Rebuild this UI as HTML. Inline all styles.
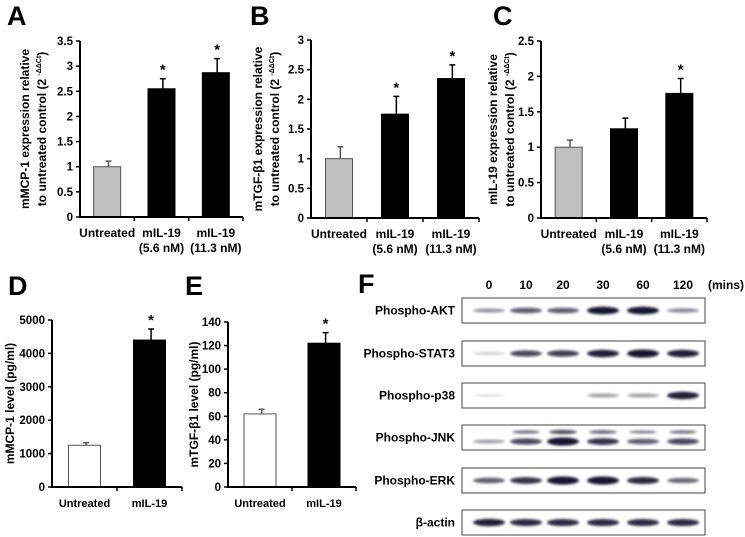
<!DOCTYPE html>
<html><head><meta charset="utf-8"><style>
body{margin:0;background:#fff;}
svg{display:block;font-family:"Liberation Sans",Arial,sans-serif;font-weight:bold;}
</style></head><body>
<svg id="fig" width="745" height="537" viewBox="0 0 745 537" xmlns="http://www.w3.org/2000/svg">
<defs><filter id="blur" x="-20%" y="-100%" width="140%" height="300%"><feGaussianBlur stdDeviation="1.2"/></filter></defs>
</svg>
<script>
// Panel A
const catsABC = ["Untreated", "mIL-19|(5.6 nM)", "mIL-19|(11.3 nM)"];
const valsA = [1.0, 2.55, 2.87];
const errA = [0.11, 0.2, 0.28];
const ticksA = [0,0.5,1,1.5,2,2.5,3,3.5];
// Panel B
const valsB = [1.0, 1.75, 2.35];
const errB = [0.2, 0.3, 0.23];
const ticksB = [0,0.5,1,1.5,2,2.5,3];
// Panel C
const valsC = [1.0, 1.26, 1.76];
const errC = [0.1, 0.15, 0.21];
const ticksC = [0,0.5,1,1.5,2,2.5];
// Panel D
const catsDE = ["Untreated", "mIL-19"];
const valsD = [1250, 4400];
const errD = [80, 330];
const ticksD = [0,1000,2000,3000,4000,5000];
// Panel E
const valsE = [62, 122];
const errE = [4, 9];
const ticksE = [0,20,40,60,80,100,120,140];
// Panel F blot
const times = ["0","10","20","30","60","120"];
const proteins = ["Phospho-AKT","Phospho-STAT3","Phospho-p38","Phospho-JNK","Phospho-ERK","β-actin"];
const bandAKT = [0.35,0.6,0.6,0.95,0.95,0.4];
const bandSTAT3 = [0.1,0.7,0.75,0.9,1.0,0.9];
const bandP38 = [0.02,0,0,0.3,0.3,0.9];
const bandJNK = [0.3,0.7,1.0,0.8,0.6,0.7];
const bandERK = [0.6,0.8,1.0,1.0,0.85,0.55];
const bandActin = [0.9,0.85,0.85,0.85,0.85,0.85];

const NS="http://www.w3.org/2000/svg";
const svg=document.getElementById('fig');
function mk(tag,attrs,parent){const e=document.createElementNS(NS,tag);for(const k in attrs)e.setAttribute(k,attrs[k]);(parent||svg).appendChild(e);return e;}
function txt(s,x,y,size,anchor,parent,rot){const t=mk('text',{x:x,y:y,'font-size':size,'text-anchor':anchor||'middle',fill:'#000'},parent);if(rot)t.setAttribute('transform','rotate(-90 '+x+' '+y+')');t.textContent=s;return t;}

function barChart(o){
  const g=mk('g',{});
  
  
  const maxT=o.ticks[o.ticks.length-1];
  const ys=v=>o.y0-(v/maxT)*(o.y0-o.yTop);
  const cw=(o.xEnd-o.x0)/o.cats.length;
  o.vals.forEach((v,i)=>{
    const cx=o.x0+cw*(i+0.5);
    const fill=o.fills[i];
    const b=mk('rect',{x:cx-o.bw/2,y:ys(v),width:o.bw,height:o.y0-ys(v),fill:fill,stroke:i==0?'#555':'#000','stroke-width':1},g);
    
    
    const ex=cx-o.bw/2+o.bw*0.55;
    const ey=ys(v+o.errs[i]);
    const eb=mk('path',{d:`M${ex} ${ys(v)}V${ey}M${ex-3} ${ey}H${ex+3}`,stroke:i==0?'#555':'#000','stroke-width':1.5,fill:'none'},g);
    
    
    if(o.stars[i]){const s=txt('*',ex,ey-4,15,'middle',g);}
    const lines=o.cats[i].split('|');
    lines.forEach((l,j)=>{const t=txt(l,cx,o.y0+20+j*15,o.catSize||12,'middle',g);});
  });
  const ax=mk('path',{d:`M${o.x0} ${o.yTop}V${o.y0}H${o.xEnd}`,stroke:'#000','stroke-width':2,fill:'none'},g);
  
  
  for(let i=1;i<=o.cats.length;i++){const x=o.x0+cw*i;mk('line',{x1:x,x2:x,y1:o.y0,y2:o.y0+4,stroke:'#000','stroke-width':1.5},g);}
  o.ticks.forEach(t=>{const y=ys(t);mk('line',{x1:o.x0-4,x2:o.x0,y1:y,y2:y,stroke:'#000','stroke-width':1.5},g);
    const l=txt(String(t),o.x0-7,y+4,11.5,'end',g);});
  o.titles.forEach((tl,j)=>{
    const x=o.titleX[j],y=(o.y0+o.yTop)/2;
    const t=mk('text',{x:x,y:y,'font-size':12,'text-anchor':'middle',fill:'#000',transform:'rotate(-90 '+x+' '+y+')'},g);
    if(tl.indexOf('|')>=0){
      const parts=tl.split('|');
      t.appendChild(document.createTextNode(parts[0]));
      const sp=mk('tspan',{'font-size':7,dy:-5},t);sp.textContent=parts[1];
      const sp2=mk('tspan',{dy:5},t);sp2.textContent=')';
    } else t.textContent=tl;
    
    
  });
  const L=txt(o.letter,o.lx,o.ly,27,'start',g);
}
const ctl='to untreated control (2 |-ΔΔCt';
barChart({name:'panel-a-chart',cats:catsABC,vals:valsA,errs:errA,ticks:ticksA,x0:80,xEnd:243,y0:217,yTop:41,bw:27,fills:['#c0c0c0','#000','#000'],stars:[0,1,1],titles:['mMCP-1 expression relative',ctl],titleX:[29,46],letter:'A',lx:7,ly:25});
barChart({name:'panel-b-chart',cats:catsABC,vals:valsB,errs:errB,ticks:ticksB,x0:311,xEnd:479,y0:218,yTop:40,bw:27,fills:['#c0c0c0','#000','#000'],stars:[0,1,1],titles:['mTGF-β1 expression relative',ctl],titleX:[262,279],letter:'B',lx:250,ly:25});
barChart({name:'panel-c-chart',cats:catsABC,vals:valsC,errs:errC,ticks:ticksC,x0:541,xEnd:707,y0:218,yTop:41,bw:27,fills:['#c0c0c0','#000','#000'],stars:[0,0,1],titles:['mIL-19 expression relative',ctl],titleX:[497,514],letter:'C',lx:493,ly:25});
barChart({name:'panel-d-chart',cats:catsDE,vals:valsD,errs:errD,ticks:ticksD,x0:52,xEnd:182,y0:487,yTop:320,bw:32,fills:['#fff','#000'],stars:[0,1],titles:['mMCP-1 level (pg/ml)'],titleX:[14],letter:'D',lx:8,ly:295,catSize:11});
barChart({name:'panel-e-chart',cats:catsDE,vals:valsE,errs:errE,ticks:ticksE,x0:228,xEnd:356,y0:487,yTop:322,bw:32,fills:['#fff','#000'],stars:[0,1],titles:['mTGF-β1 level (pg/ml)'],titleX:[198],letter:'E',lx:185,ly:295,catSize:11});

// Panel F
const gF=mk('g',{});


const FL=txt('F',358,293,27,'start',gF);
const laneX=[489,526,563,603,643,683];
times.forEach((t,i)=>{const e=txt(t,laneX[i],289,12,'middle',gF);});
const mins=txt('(mins)',708,289,12,'start',gF);
const rowsY=[298,341,383,425,468,510];
const bands=[bandAKT,bandSTAT3,bandP38,bandJNK,bandERK,bandActin];
proteins.forEach((p,r)=>{
  const y=rowsY[r],h=25;
  const box=mk('rect',{x:462,y:y,width:243,height:h,fill:'#fff',stroke:'#444','stroke-width':1},gF);
  
  
  const l=txt(p,455,y+h/2+4,12,'end',gF);
  
  
  bands[r].forEach((v,i)=>{
    if(v<=0)return;
    const cy=y+h/2+(r==3?4:0);
    const e=mk('ellipse',{cx:laneX[i],cy:cy,rx:16,ry:1+v*3,fill:'#15152e',opacity:Math.min(1,0.15+v*0.9),filter:'url(#blur)'},gF);
    
    
    if(r==3&&i>0){const e2=mk('ellipse',{cx:laneX[i],cy:y+7,rx:14,ry:0.8+v*1.3,fill:'#15152e',opacity:0.2+v*0.55,filter:'url(#blur)'},gF);
      
      }
  });
});
</script>
</body></html>
